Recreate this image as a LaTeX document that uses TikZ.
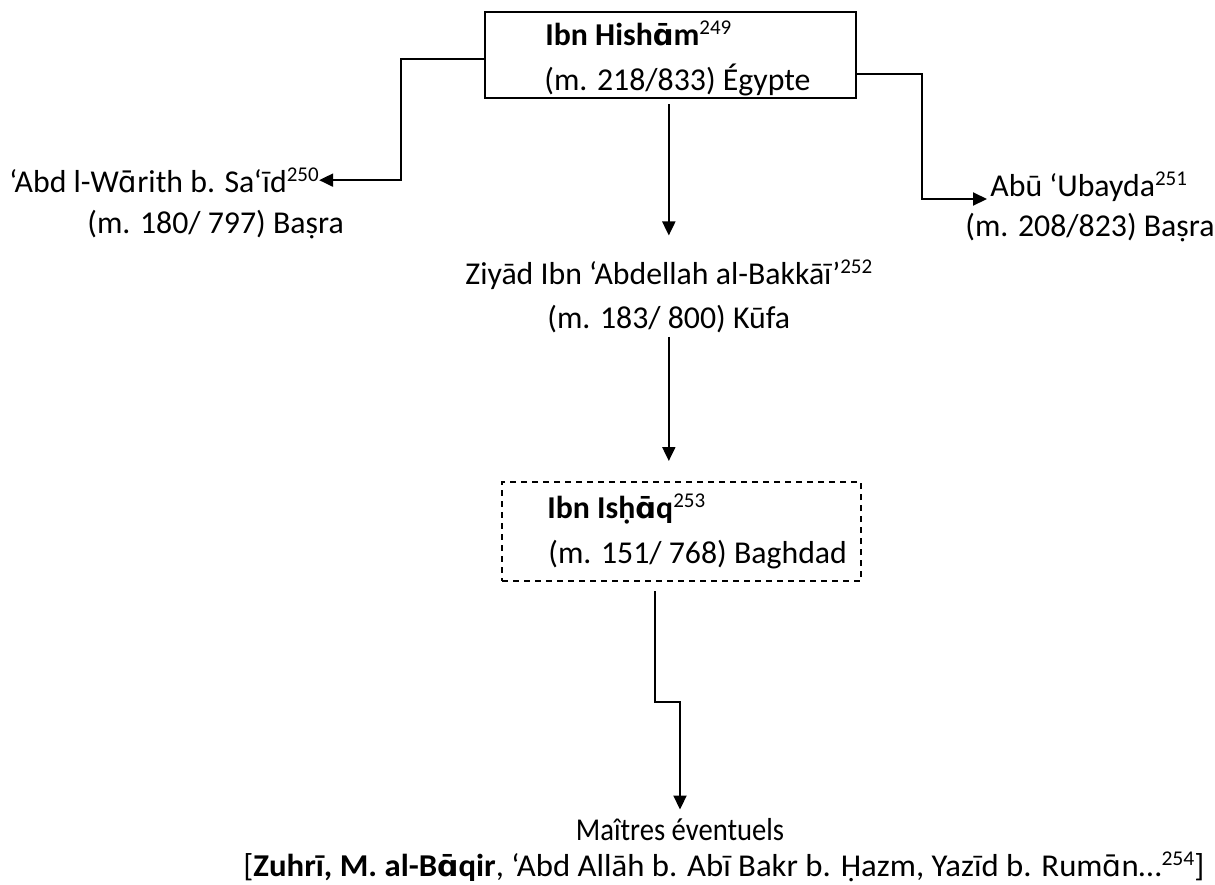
\documentclass[tikz,border=0pt]{standalone}
\usepackage{fontspec}
\setmainfont{Carlito}
\newfontfamily\ipafont{DejaVu Sans}
\usetikzlibrary{arrows.meta}

\newcommand{\fnref}[1]{\raisebox{0.33em}{\fontsize{10.5pt}{10pt}\selectfont #1}}
\newcommand{\amac}{{\ipafont\fontsize{14.5pt}{21.5pt}\selectfont ɑ̄}}

\tikzset{
    txt/.style={inner sep=0pt, font=\fontsize{15.9pt}{21.5pt}\selectfont},
    box/.style={draw, line width=1pt, inner sep=0pt},
    dashbox/.style={draw, line width=1pt, inner sep=0pt, dash pattern=on 3pt off 2.5pt},
    arr/.style={-{Triangle[length=7pt,width=6.5pt]}, line width=1pt}
}

\begin{document}
\begin{tikzpicture}[x=0.5pt, y=-0.5pt]
    \useasboundingbox (0,0) rectangle (1215,884);

    % Boxes
    \node[box, minimum width=185.5pt, minimum height=43pt] (hisham) at (670.5,55) {};
    \node[dashbox, minimum width=179.5pt, minimum height=49.5pt] (ishaq) at (681.5,531.5) {};

    % Texts
    \node[txt, anchor=base west] (hishamname) at (545,45) {\textbf{Ibn Hish\amac m}\fnref{249}};
    \node[txt, anchor=base west] (hishamdate) at (544,90) {(m. 218/833) Égypte};
    \node[txt, anchor=base west] (wareth) at (9,192) {‘Abd l-W\amac rith b. Sa‘īd\fnref{250}};
    \node[txt, anchor=base west] (warethdate) at (87,233) {(m. 180/ 797) Baṣra};
    \node[txt, anchor=base west] (ubayda) at (990,196) {Abū ‘Ubayda\fnref{251}};
    \node[txt, anchor=base west] (ubaydadate) at (965,236) {(m. 208/823) Baṣra};
    \node[txt, anchor=base west] (ziyad) at (465,284) {Ziyād Ibn ‘Abdellah al-Bakkāī’\fnref{252}};
    \node[txt, anchor=base west] (ziyaddate) at (547,328) {(m. 183/ 800) Kūfa};
    \node[txt, anchor=base west] (ishaqname) at (547,518) {\textbf{Ibn Isḥ\amac q}\fnref{253}};
    \node[txt, anchor=base west] (ishaqdate) at (548,563) {(m. 151/ 768) Baghdad};
    \node[txt, anchor=base] (maitres) at (680,840) {\scalebox{0.9}[1]{Maîtres éventuels}};
    \node[txt, anchor=base west] (masters) at (243,876) {\scalebox{1.03}[1]{[\textbf{Zuhrī, M. al-B\amac qir}, ‘Abd Allāh b. Abī Bakr b. Ḥazm, Yazīd b. Rum\amac n…\fnref{254}]}};

    % Bends
    \coordinate (lbend) at (401,59);
    \coordinate (rbend) at (922,74);
    \coordinate (zig) at (680,702);

    % Arrows
    \draw[arr] (hisham.west |- lbend) -- (lbend) |- (wareth.east);
    \draw[arr] (hisham.east |- rbend) -- (rbend) |- ([xshift=-1.5pt,yshift=-1.5pt]ubayda.base west);
    \draw[arr, shorten <=2.5pt, shorten >=12pt] (hisham.south -| ziyad.north) -- (ziyad.north);
    \draw[arr, shorten <=2pt, shorten >=10pt] (ziyaddate.south -| ziyad.north) -- (ishaq.north -| ziyad.north);
    \draw[arr, shorten <=4.5pt, shorten >=4pt] ([xshift=-13.25pt]ishaq.south) |- (zig) -- (maitres.north);
\end{tikzpicture}
\end{document}
